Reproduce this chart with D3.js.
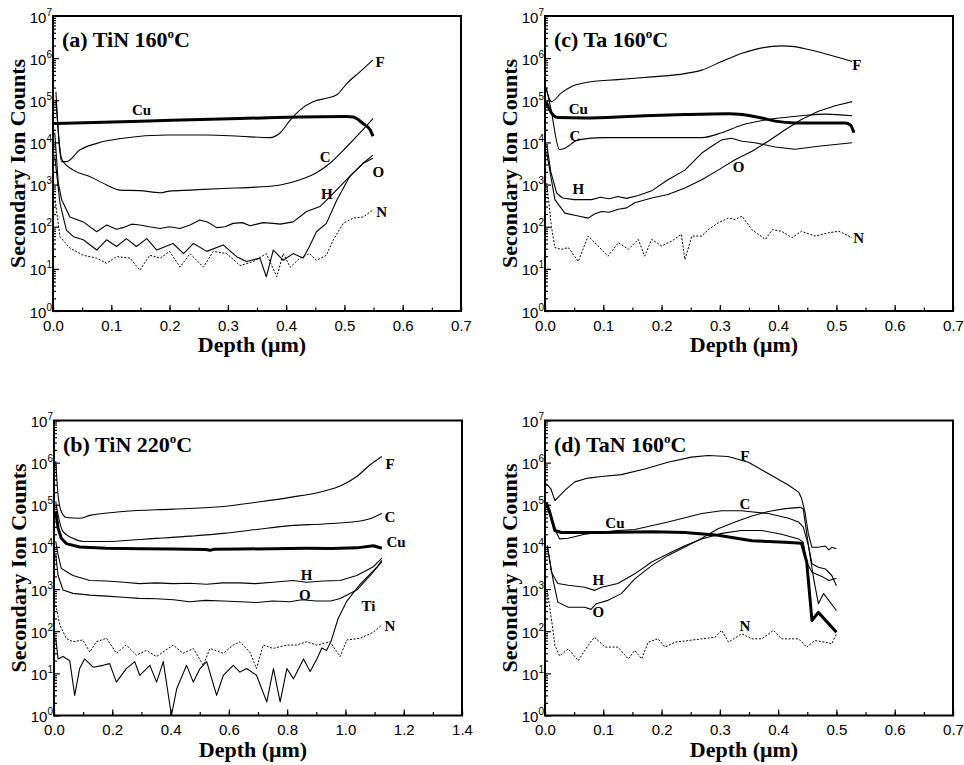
<!DOCTYPE html>
<html>
<head>
<meta charset="utf-8">
<script src="https://cdn.jsdelivr.net/npm/d3@7/dist/d3.min.js"></script>
<style>
body { margin: 0; background: #fff; }
.tick text { font-family: "Liberation Sans", Arial, sans-serif; font-size: 15px; fill: #000; }
.lab { font-family: "Liberation Serif", "Times New Roman", serif; font-weight: bold; fill: #000; }
</style>
</head>
<body>
<script>
// depth (um), secondary ion counts

// (a) TiN 160C
var aCu = [[0.0, 2.8e4], [0.15, 3.2e4], [0.32, 3.7e4], [0.504, 4.1e4], [0.515, 4.0e4], [0.532, 2.8e4], [0.544, 2.0e4], [0.549, 1.4e4]];
var aF = [[0.005, 1.6e5], [0.015, 3.5e3], [0.023, 3.5e3], [0.046, 6.6e3], [0.075, 9.5e3], [0.12, 1.26e4], [0.195, 1.5e4], [0.264, 1.5e4], [0.32, 1.4e4], [0.372, 1.3e4], [0.39, 1.7e4], [0.407, 3.4e4], [0.424, 5.9e4], [0.447, 9.3e4], [0.469, 1.12e5], [0.487, 1.35e5], [0.504, 2.5e5], [0.527, 4.8e5], [0.549, 9.1e5]];
var aC = [[0.005, 1.0e5], [0.015, 4.0e3], [0.035, 2.2e3], [0.063, 1.55e3], [0.092, 980], [0.115, 740], [0.149, 720], [0.184, 640], [0.2, 700], [0.235, 740], [0.292, 810], [0.349, 870], [0.39, 980], [0.424, 1.3e3], [0.452, 1.9e3], [0.475, 3.2e3], [0.504, 7.9e3], [0.527, 1.7e4], [0.549, 3.7e4]];
var aH = [[0.003, 1.7e4], [0.009, 1.1e3], [0.015, 430], [0.029, 170], [0.052, 130], [0.075, 76], [0.092, 110], [0.109, 87], [0.12, 95], [0.135, 115], [0.149, 110], [0.165, 100], [0.184, 91], [0.2, 100], [0.218, 91], [0.235, 110], [0.252, 145], [0.265, 130], [0.281, 95], [0.295, 100], [0.309, 120], [0.325, 125], [0.338, 105], [0.36, 125], [0.378, 120], [0.39, 115], [0.412, 130], [0.435, 230], [0.458, 300], [0.475, 510], [0.492, 890], [0.515, 1.9e3], [0.532, 3.2e3], [0.549, 5.0e3]];
var aO = [[0.003, 4.6e3], [0.012, 360], [0.023, 83], [0.035, 58], [0.052, 49], [0.075, 28], [0.092, 49], [0.109, 34], [0.126, 52], [0.143, 34], [0.161, 52], [0.178, 28], [0.206, 40], [0.224, 23], [0.241, 40], [0.264, 26], [0.292, 37], [0.315, 19.5], [0.332, 15], [0.355, 18], [0.366, 6.5], [0.378, 28], [0.395, 16], [0.412, 23], [0.429, 18], [0.44, 34], [0.452, 76], [0.469, 120], [0.487, 430], [0.509, 1.55e3], [0.532, 3.2e3], [0.549, 4.2e3]];
var aN = [[0.003, 510], [0.012, 58], [0.029, 31], [0.052, 21], [0.075, 18], [0.092, 13.5], [0.109, 19.5], [0.132, 18], [0.149, 9.3], [0.166, 21], [0.184, 18], [0.2, 26], [0.218, 11], [0.235, 23], [0.258, 11], [0.275, 26], [0.298, 23], [0.321, 12], [0.344, 15], [0.366, 23], [0.384, 6.5], [0.395, 23], [0.407, 11], [0.424, 18], [0.44, 23], [0.452, 16], [0.469, 21], [0.481, 49], [0.498, 120], [0.515, 160], [0.532, 170], [0.549, 250]];

// (b) TiN 220C
var bF = [[0.006, 1.07e6], [0.014, 1.7e5], [0.025, 6.9e4], [0.042, 5.0e4], [0.088, 4.8e4], [0.123, 5.6e4], [0.237, 6.9e4], [0.409, 7.9e4], [0.581, 9.1e4], [0.695, 1.15e5], [0.81, 1.5e5], [0.924, 2.1e5], [0.982, 2.8e5], [1.039, 4.7e5], [1.085, 8.9e5], [1.125, 1.4e6]];
var bC = [[0.006, 1.2e5], [0.014, 5.8e4], [0.031, 2.3e4], [0.065, 1.6e4], [0.1, 1.35e4], [0.18, 1.35e4], [0.294, 1.5e4], [0.466, 1.8e4], [0.581, 2.1e4], [0.695, 2.6e4], [0.81, 3.2e4], [0.924, 3.5e4], [1.039, 4.0e4], [1.096, 5.0e4], [1.125, 6.3e4]];
var bCu = [[0.006, 6.9e4], [0.014, 2.8e4], [0.025, 1.6e4], [0.042, 1.2e4], [0.088, 1.0e4], [0.18, 9.3e3], [0.3, 9.0e3], [0.409, 8.9e3], [0.52, 8.7e3], [0.535, 8.3e3], [0.55, 8.8e3], [0.638, 8.9e3], [0.75, 9.1e3], [0.867, 9.3e3], [0.95, 9.2e3], [1.039, 9.5e3], [1.096, 1.07e4], [1.125, 9.3e3]];
var bH = [[0.006, 1.35e4], [0.014, 6.5e3], [0.025, 3.1e3], [0.042, 2.6e3], [0.065, 2.1e3], [0.123, 1.6e3], [0.18, 1.55e3], [0.24, 1.45e3], [0.294, 1.35e3], [0.35, 1.4e3], [0.409, 1.35e3], [0.466, 1.38e3], [0.523, 1.3e3], [0.58, 1.4e3], [0.638, 1.4e3], [0.69, 1.35e3], [0.752, 1.45e3], [0.82, 1.6e3], [0.867, 1.45e3], [0.924, 1.55e3], [0.982, 1.6e3], [1.039, 2.1e3], [1.096, 3.4e3], [1.125, 5.4e3]];
var bO = [[0.006, 6.5e3], [0.014, 2.1e3], [0.031, 950], [0.065, 790], [0.123, 720], [0.18, 680], [0.237, 640], [0.29, 600], [0.352, 590], [0.41, 560], [0.466, 500], [0.52, 540], [0.58, 520], [0.64, 500], [0.695, 480], [0.75, 520], [0.81, 500], [0.85, 560], [0.9, 520], [0.95, 520], [0.982, 600], [1.039, 950], [1.085, 2.1e3], [1.125, 4.5e3]];
var bTi = [[0.006, 68], [0.014, 22], [0.031, 25], [0.054, 20], [0.071, 3], [0.088, 13], [0.105, 22], [0.134, 14], [0.168, 15.5], [0.191, 17], [0.214, 6.2], [0.248, 13], [0.277, 19], [0.294, 9], [0.329, 15.5], [0.352, 6.2], [0.375, 19], [0.403, 1], [0.421, 4.3], [0.455, 15.5], [0.478, 6.2], [0.501, 13], [0.524, 19], [0.558, 3], [0.581, 9], [0.615, 15.5], [0.638, 10.7], [0.661, 13], [0.695, 9], [0.73, 2.1], [0.753, 13], [0.776, 2.1], [0.799, 13], [0.822, 7.4], [0.856, 22], [0.879, 11], [0.902, 22], [0.919, 40], [0.935, 35], [0.95, 56], [0.975, 200], [1.005, 520], [1.05, 1.3e3], [1.108, 3.3e3], [1.125, 4.8e3]];
var bN = [[0.006, 420], [0.02, 140], [0.042, 68], [0.065, 56], [0.099, 62], [0.123, 32], [0.145, 56], [0.18, 68], [0.214, 30], [0.248, 47], [0.283, 27], [0.317, 35], [0.352, 25], [0.409, 47], [0.443, 30], [0.478, 39], [0.512, 15.5], [0.535, 39], [0.581, 30], [0.615, 47], [0.638, 56], [0.672, 32], [0.695, 13], [0.718, 47], [0.752, 39], [0.798, 47], [0.833, 47], [0.867, 56], [0.901, 47], [0.947, 56], [0.982, 25], [1.005, 62], [1.05, 68], [1.096, 95], [1.125, 140]];

// (c) Ta 160C
var cF = [[0.002, 1.95e5], [0.011, 9.3e4], [0.028, 1.5e5], [0.045, 2.1e5], [0.068, 2.6e5], [0.125, 3.1e5], [0.183, 3.6e5], [0.24, 4.3e5], [0.269, 5.2e5], [0.303, 8.3e5], [0.338, 1.3e6], [0.372, 1.75e6], [0.406, 1.95e6], [0.424, 1.9e6], [0.452, 1.6e6], [0.487, 1.2e6], [0.527, 8.3e5]];
var cCu = [[0.002, 9.3e4], [0.011, 5.0e4], [0.022, 3.9e4], [0.068, 3.8e4], [0.154, 4.2e4], [0.24, 4.6e4], [0.315, 4.8e4], [0.338, 4.6e4], [0.372, 3.8e4], [0.395, 3.2e4], [0.429, 2.9e4], [0.469, 2.9e4], [0.515, 2.9e4], [0.524, 2.6e4], [0.53, 1.7e4]];
var cC = [[0.002, 2.0e5], [0.01, 6.3e4], [0.025, 6.8e3], [0.032, 7.1e3], [0.057, 1.15e4], [0.1, 1.3e4], [0.2, 1.3e4], [0.269, 1.3e4], [0.303, 1.7e4], [0.338, 2.6e4], [0.383, 3.5e4], [0.44, 4.3e4], [0.481, 4.7e4], [0.527, 4.3e4]];
var cH = [[0.003, 8.9e3], [0.01, 2.0e3], [0.02, 630], [0.03, 480], [0.05, 440], [0.08, 440], [0.095, 500], [0.11, 460], [0.125, 520], [0.14, 470], [0.16, 550], [0.183, 710], [0.211, 1.3e3], [0.24, 2.2e3], [0.269, 5.6e3], [0.286, 8.1e3], [0.303, 1.15e4], [0.32, 1.26e4], [0.338, 1.07e4], [0.36, 9.8e3], [0.395, 7.8e3], [0.429, 6.9e3], [0.469, 8.1e3], [0.527, 9.8e3]];
var cO = [[0.003, 5.6e3], [0.017, 440], [0.034, 210], [0.057, 180], [0.074, 160], [0.085, 200], [0.097, 230], [0.11, 220], [0.126, 260], [0.14, 280], [0.154, 370], [0.183, 480], [0.211, 580], [0.24, 830], [0.269, 1.3e3], [0.297, 2.2e3], [0.326, 3.9e3], [0.355, 6.2e3], [0.383, 1.07e4], [0.412, 2.0e4], [0.44, 3.5e4], [0.469, 5.5e4], [0.498, 7.4e4], [0.527, 9.3e4]];
var cN = [[0.003, 1.1e3], [0.011, 100], [0.017, 32], [0.028, 29], [0.04, 32], [0.057, 15], [0.074, 60], [0.091, 35], [0.108, 20], [0.126, 42], [0.143, 29], [0.16, 50], [0.171, 20], [0.183, 50], [0.2, 35], [0.218, 46], [0.234, 66], [0.24, 16.6], [0.252, 60], [0.269, 60], [0.28, 85], [0.297, 123], [0.315, 162], [0.326, 148], [0.338, 178], [0.355, 85], [0.378, 50], [0.39, 85], [0.406, 78], [0.424, 55], [0.44, 78], [0.463, 60], [0.487, 72], [0.504, 78], [0.527, 55]];

// (d) TaN 160C
var dF = [[0.002, 3.2e5], [0.01, 2.4e5], [0.017, 1.26e5], [0.034, 2.2e5], [0.051, 3.5e5], [0.074, 4.3e5], [0.097, 4.7e5], [0.131, 5.2e5], [0.171, 7.1e5], [0.211, 1.02e6], [0.251, 1.35e6], [0.28, 1.48e6], [0.314, 1.4e6], [0.349, 1.02e6], [0.383, 5.5e5], [0.418, 2.9e5], [0.435, 2.0e5], [0.44, 1.45e5], [0.446, 6.8e4], [0.452, 2.0e4], [0.458, 9.8e3], [0.469, 9.8e3], [0.481, 1.05e4], [0.487, 8.5e3], [0.492, 9.8e3], [0.5, 9.1e3]];
var dC = [[0.002, 1.05e5], [0.014, 3.2e4], [0.025, 1.55e4], [0.04, 1.6e4], [0.068, 2.0e4], [0.125, 2.45e4], [0.154, 2.6e4], [0.211, 3.9e4], [0.269, 6.2e4], [0.303, 7.2e4], [0.337, 7.2e4], [0.383, 6.2e4], [0.418, 4.8e4], [0.435, 3.9e4], [0.443, 3.0e4], [0.452, 1.07e4], [0.458, 4.0e3], [0.469, 3.3e3], [0.481, 3.0e3], [0.492, 2.1e3], [0.5, 1.2e3]];
var dCu = [[0.002, 1.15e5], [0.008, 6.8e4], [0.017, 2.45e4], [0.028, 2.2e4], [0.097, 2.2e4], [0.183, 2.3e4], [0.24, 2.2e4], [0.297, 1.9e4], [0.355, 1.4e4], [0.412, 1.3e4], [0.44, 1.23e4], [0.449, 4.4e3], [0.458, 180], [0.469, 280], [0.5, 95]];
var dH = [[0.004, 1.07e4], [0.011, 2.5e3], [0.022, 1.35e3], [0.04, 1.23e3], [0.068, 1.1e3], [0.085, 930], [0.097, 1.1e3], [0.125, 1.35e3], [0.154, 2.3e3], [0.183, 4.4e3], [0.211, 6.9e3], [0.24, 1.07e4], [0.269, 1.55e4], [0.303, 2.1e4], [0.337, 2.45e4], [0.372, 2.45e4], [0.406, 2.0e4], [0.435, 1.55e4], [0.443, 1.3e4], [0.449, 4.4e3], [0.458, 2.5e3], [0.475, 2.0e3], [0.487, 1.6e3], [0.5, 1.8e3]];
var dO = [[0.004, 1.07e4], [0.014, 1.6e3], [0.022, 490], [0.04, 370], [0.068, 370], [0.079, 330], [0.088, 450], [0.108, 540], [0.131, 780], [0.154, 1.75e3], [0.183, 3.6e3], [0.211, 6.3e3], [0.24, 1.0e4], [0.269, 1.6e4], [0.297, 2.7e4], [0.326, 3.9e4], [0.355, 5.4e4], [0.383, 6.9e4], [0.412, 8.1e4], [0.438, 8.7e4], [0.443, 8.1e4], [0.452, 1.07e4], [0.461, 1.75e3], [0.469, 450], [0.478, 780], [0.5, 310]];
var dN = [[0.004, 930], [0.011, 195], [0.017, 46], [0.025, 26], [0.04, 38], [0.057, 20], [0.074, 46], [0.085, 72], [0.103, 42], [0.125, 42], [0.143, 22], [0.154, 35], [0.166, 22], [0.177, 55], [0.194, 66], [0.206, 42], [0.223, 55], [0.246, 60], [0.269, 66], [0.292, 72], [0.303, 105], [0.315, 55], [0.337, 87], [0.355, 66], [0.372, 66], [0.392, 105], [0.406, 66], [0.435, 66], [0.449, 42], [0.463, 60], [0.481, 55], [0.492, 50], [0.5, 87]];

// curve labels: [text, depth, counts]
var aLabels = [['Cu', 0.152, 5.9e4], ['F', 0.561, 8.3e5], ['C', 0.467, 4.6e3], ['O', 0.558, 2.0e3], ['H', 0.47, 620], ['N', 0.564, 230]];
var bLabels = [['F', 1.153, 9.6e5], ['C', 1.153, 5.2e4], ['Cu', 1.174, 1.3e4], ['H', 0.867, 2.2e3], ['O', 0.861, 730], ['Ti', 1.079, 410], ['N', 1.153, 137]];
var cLabels = [['F', 0.535, 6.9e5], ['Cu', 0.057, 6.2e4], ['C', 0.0515, 1.45e4], ['H', 0.057, 790], ['O', 0.332, 2.7e3], ['N', 0.538, 54]];
var dLabels = [['F', 0.343, 1.45e6], ['C', 0.343, 1.03e5], ['Cu', 0.12, 3.8e4], ['H', 0.0914, 1.7e3], ['O', 0.0914, 290], ['N', 0.343, 135]];

var width = 964,
	height = 765,
	pw = 408,
	ph = 295;

var panels = [
	{ left: 53, top: 16, xMax: 0.7, xStep: 0.1, title: '(a) TiN 160',
		series: [[aF, 'thin'], [aC, 'thin'], [aH, 'jag'], [aO, 'jag'], [aN, 'dot'], [aCu, 'thick']], labels: aLabels },
	{ left: 545, top: 16, xMax: 0.7, xStep: 0.1, title: '(c) Ta 160',
		series: [[cF, 'thin'], [cC, 'thin'], [cH, 'jag'], [cO, 'jag'], [cN, 'dot'], [cCu, 'thick']], labels: cLabels },
	{ left: 54, top: 420.5, xMax: 1.4, xStep: 0.2, title: '(b) TiN 220',
		series: [[bF, 'thin'], [bC, 'thin'], [bH, 'jag'], [bO, 'jag'], [bTi, 'jag'], [bN, 'dot'], [bCu, 'thickjag']], labels: bLabels },
	{ left: 545, top: 420.5, xMax: 0.7, xStep: 0.1, title: '(d) TaN 160',
		series: [[dF, 'jag'], [dC, 'jag'], [dH, 'jag'], [dO, 'jag'], [dN, 'dot'], [dCu, 'thickjag']], labels: dLabels }
];

var styles = {
	thin: { w: 1.1, dash: null, curve: d3.curveMonotoneX },
	jag: { w: 1.1, dash: null, curve: d3.curveLinear },
	thick: { w: 3, dash: null, curve: d3.curveMonotoneX },
	thickjag: { w: 3, dash: null, curve: d3.curveLinear },
	dot: { w: 1, dash: '2,1.6', curve: d3.curveLinear }
};

var svg = d3.select('body')
	.append('svg')
	.attr('width', width)
	.attr('height', height);

svg.append('rect')
	.attr('width', width)
	.attr('height', height)
	.attr('fill', '#fff');

panels.forEach(drawPanel);

function drawPanel(p, i) {
	var g = svg.append('g')
		.attr('transform', 'translate(' + p.left + ',' + p.top + ')');

	var x = d3.scaleLinear().domain([0, p.xMax]).range([0, pw]);
	var y = d3.scaleLog().domain([1, 1e7]).range([ph, 0]);

	g.append('clipPath')
		.attr('id', 'clip' + i)
		.append('rect')
		.attr('width', pw)
		.attr('height', ph);

	g.append('g')
		.attr('clip-path', 'url(#clip' + i + ')')
		.selectAll('path')
		.data(p.series)
		.enter()
		.append('path')
		.attr('d', function(d) {
			return d3.line()
				.x(function(v) { return x(v[0]); })
				.y(function(v) { return y(v[1]); })
				.curve(styles[d[1]].curve)(d[0]);
		})
		.attr('fill', 'none')
		.attr('stroke', '#000')
		.attr('stroke-linejoin', 'round')
		.attr('stroke-width', function(d) { return styles[d[1]].w; })
		.attr('stroke-dasharray', function(d) { return styles[d[1]].dash; });

	// x ticks, inward
	var xMinor = d3.range(0, p.xMax + 1e-9, p.xStep / 2);
	var xMajor = d3.range(0, p.xMax + 1e-9, p.xStep);
	g.append('g')
		.attr('transform', 'translate(0,' + ph + ')')
		.call(d3.axisBottom(x).tickValues(xMinor).tickSize(-3.5).tickFormat(''))
		.call(tidy);
	g.append('g')
		.attr('transform', 'translate(0,' + ph + ')')
		.call(d3.axisBottom(x).tickValues(xMajor).tickSize(-6).tickPadding(9).tickFormat(d3.format('.1f')))
		.call(tidy);

	// y ticks, log decades
	var yMinor = [];
	for (var e = 0; e < 7; e++) {
		for (var k = 2; k < 10; k++) yMinor.push(k * Math.pow(10, e));
	}
	var yMajor = d3.range(0, 8).map(function(e) { return Math.pow(10, e); });
	g.append('g')
		.call(d3.axisLeft(y).tickValues(yMinor).tickSize(-3).tickFormat(''))
		.call(tidy);
	var ya = g.append('g')
		.call(d3.axisLeft(y).tickValues(yMajor).tickSize(-6).tickFormat(''))
		.call(tidy);
	ya.selectAll('.tick text').remove();
	ya.selectAll('.tick').each(function(d) {
		var t = d3.select(this).append('text')
			.attr('x', -1)
			.attr('y', 6)
			.attr('text-anchor', 'end');
		t.append('tspan').text('10');
		t.append('tspan')
			.attr('dy', -7)
			.style('font-size', '10px')
			.text(Math.round(Math.log10(d)));
	});

	g.append('rect')
		.attr('width', pw)
		.attr('height', ph)
		.attr('fill', 'none')
		.attr('stroke', '#000')
		.attr('stroke-width', 2);

	// curve labels
	g.selectAll('.curve-label')
		.data(p.labels)
		.enter()
		.append('text')
		.attr('class', 'lab')
		.attr('x', function(d) { return x(d[1]); })
		.attr('y', function(d) { return y(d[2]); })
		.attr('dy', '0.35em')
		.attr('text-anchor', 'middle')
		.style('font-size', '15px')
		.text(function(d) { return d[0]; });

	// panel title
	var title = g.append('text')
		.attr('class', 'lab')
		.attr('x', 9)
		.attr('y', 31)
		.style('font-size', '22px');
	title.append('tspan').text(p.title);
	title.append('tspan').attr('dy', -9).style('font-size', '13px').text('o');
	title.append('tspan').attr('dy', 9).text('C');

	g.append('text')
		.attr('class', 'lab')
		.attr('x', pw / 2 - 5)
		.attr('y', ph + 41)
		.attr('text-anchor', 'middle')
		.style('font-size', '22px')
		.text('Depth (\u03bcm)');

	g.append('text')
		.attr('class', 'lab')
		.attr('transform', 'translate(-28,' + (ph / 2) + ') rotate(-90)')
		.attr('text-anchor', 'middle')
		.style('font-size', '22px')
		.text('Secondary Ion Counts');
}

function tidy(sel) {
	sel.select('.domain').remove();
	sel.selectAll('.tick line').attr('stroke', '#000').attr('stroke-width', 1.2);
}
</script>
</body>
</html>
